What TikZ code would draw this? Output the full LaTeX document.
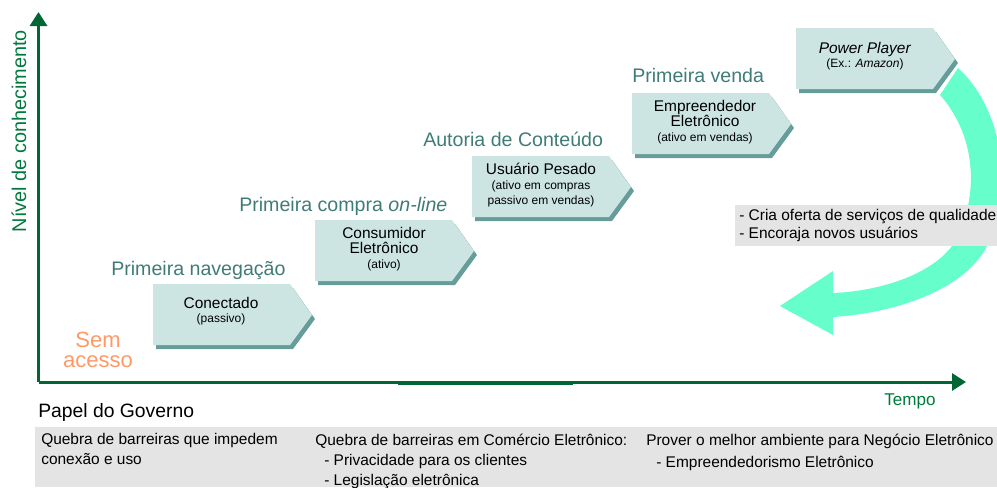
\documentclass[tikz,border=0pt]{standalone}
\usepackage{fontspec}
\setmainfont{Liberation Sans}
\usetikzlibrary{arrows.meta}

\definecolor{axisgreen}{HTML}{006633}
\definecolor{labelgreen}{HTML}{00793D}
\definecolor{stageteal}{HTML}{3F7C78}
\definecolor{boxfill}{HTML}{CCE5E3}
\definecolor{boxshade}{HTML}{669C99}
\definecolor{loopmint}{HTML}{66FFCC}
\definecolor{govgray}{HTML}{E4E4E4}
\definecolor{offorange}{HTML}{FF9966}

\newcommand\subtxt{\fontsize{9}{8.5}\selectfont}

\tikzset{
  stagebox/.pic={
    \fill[boxshade] (3,4) -- (140,4) -- (162,35) -- (140,65) -- (3,65) -- cycle;
    \fill[boxfill] (0,0) -- (137,0) -- (159,31) -- (137,61) -- (0,61) -- cycle;
  },
  axis/.style={draw=axisgreen, line width=2.25pt, line join=miter},
  axistip/.style={-{Triangle[length=10.5pt,width=12.75pt]}},
  stagelabel/.style={anchor=base west, inner sep=0pt, text=stageteal, font=\fontsize{14.7}{17}\selectfont},
  boxtext/.style={align=center, inner sep=0pt, font=\fontsize{11.6}{11}\selectfont},
  govtext/.style={anchor=north west, align=left, inner sep=0pt, font=\fontsize{11.6}{15}\selectfont}
}

\begin{document}
\begin{tikzpicture}[x=0.75pt,y=-0.75pt]
  \useasboundingbox (0,0) rectangle (997,487);

  % axes
  \coordinate (origin) at (38.5,382);
  \coordinate (ytop) at (38.5,12);
  \coordinate (xend) at (966,382);
  \draw[axis, axistip] (origin) -- (ytop);
  \draw[axis, axistip] (origin) -- (xend);
  \draw[axis] (398,383.5) -- (573,383.5);

  \node[rotate=90, text=labelgreen, font=\fontsize{14.9}{17}\selectfont] (ylab) at (19,131) {Nível de conhecimento};
  \node[anchor=base west, inner sep=0pt, text=labelgreen, font=\fontsize{12.8}{15}\selectfont] (xlab) at (884,405) {Tempo};
  \node[align=center, inner sep=0pt, text=offorange, font=\fontsize{16.5}{15}\selectfont] (semacesso) at (98,350) {Sem\\acesso};

  % stages
  \pic at (153,284) {stagebox};
  \pic at (315,220) {stagebox};
  \pic at (472,156) {stagebox};
  \pic at (632,93) {stagebox};
  \pic at (796,28) {stagebox};

  \node[boxtext] (conectado) at (221,311) {Conectado\\{\subtxt (passivo)}};
  \node[boxtext] (consumidor) at (384,249) {Consumidor\\Eletrônico\\{\subtxt (ativo)}};
  \node[boxtext] (pesado) at (541,185) {Usuário Pesado\\{\subtxt (ativo em compras}\\{\subtxt passivo em vendas)}};
  \node[boxtext] (empreendedor) at (705,122) {Empreendedor\\Eletrônico\\{\subtxt (ativo em vendas)}};
  \node[boxtext] (power) at (865,56) {\textit{Power Player}\\{\subtxt (Ex.: \textit{Amazon})}};

  \node[stagelabel] (navegacao) at (111,275) {Primeira navegação};
  \node[stagelabel] (compra) at (239,211) {Primeira compra \textit{on-line}};
  \node[stagelabel] (autoria) at (423,146) {Autoria de Conteúdo};
  \node[stagelabel] (venda) at (632,82) {Primeira venda};

  % loop back
  \fill[loopmint] (958,68) .. controls (1005,110) and (1015,200) .. (987,246)
    .. controls (965,290) and (895,313) .. (833,317)
    -- (833,335) -- (780,306) -- (833,271) -- (833,293)
    .. controls (880,291) and (930,275) .. (952,246)
    .. controls (978,205) and (980,140) .. (940,95) -- cycle;

  \fill[govgray] (735,205) rectangle (1000,246);
  \node[anchor=west, align=left, inner sep=0pt, font=\fontsize{11.6}{13.5}\selectfont] (oferta) at (739,225)
    {- Cria oferta de serviços de qualidade\\- Encoraja novos usuários};

  % governo
  \node[anchor=base west, inner sep=0pt, font=\fontsize{14.5}{17}\selectfont] (governo) at (38,417) {Papel do Governo};
  \fill[govgray] (35,427) rectangle (997,487);
  \node[govtext] (gov1) at (41,433.5) {Quebra de barreiras que impedem\\conexão e uso};
  \node[govtext] (gov2) at (315,433.5) {Quebra de barreiras em Comércio Eletrônico:\\
    \hspace*{6.75pt}- Privacidade para os clientes\\\hspace*{6.75pt}- Legislação eletrônica};
  \node[govtext] (gov3) at (646,433.5) {Prover o melhor ambiente para Negócio Eletrônico\\[1.5pt]
    \hspace*{7.5pt}- Empreendedorismo Eletrônico};
\end{tikzpicture}
\end{document}
